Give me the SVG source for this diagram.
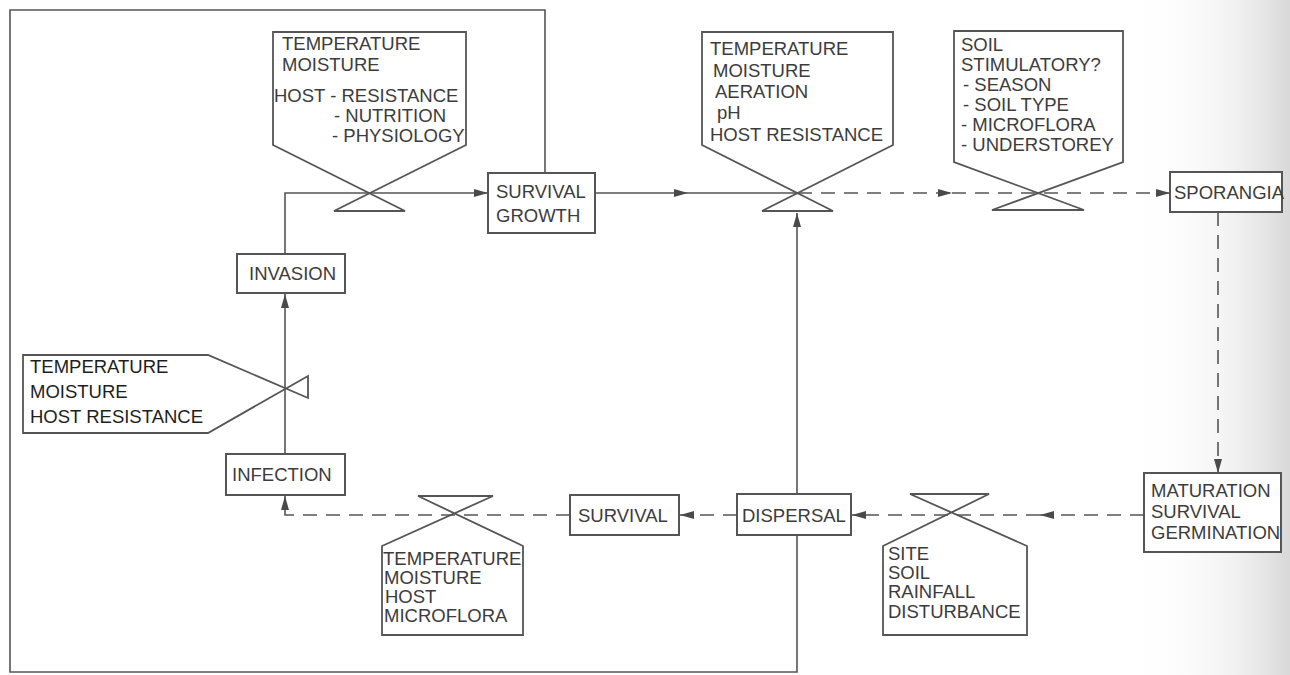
<svg xmlns="http://www.w3.org/2000/svg" width="1290" height="675" viewBox="0 0 1290 675">
<defs>
<linearGradient id="shade" x1="0" y1="0" x2="1" y2="0">
<stop offset="0" stop-color="#ffffff" stop-opacity="0"/>
<stop offset="0.6" stop-color="#ececec" stop-opacity="0.6"/>
<stop offset="1" stop-color="#d8d8d8" stop-opacity="1"/>
</linearGradient>
<marker id="ah" viewBox="0 0 14 10" markerWidth="14" markerHeight="10" refX="14" refY="5" orient="auto" markerUnits="userSpaceOnUse">
<path d="M0,1 L14,5 L0,9 Z" fill="#4a4a4a"/>
</marker>
<style>
.ln{fill:none;stroke:#555;stroke-width:1.6}
.dl{fill:none;stroke:#555;stroke-width:1.6;stroke-dasharray:14 9}
.bx{fill:#fff;stroke:#555;stroke-width:2}
.vl{fill:none;stroke:#555;stroke-width:1.8;stroke-linejoin:miter}
text{font-family:"Liberation Sans",Arial,Helvetica,sans-serif;font-size:18.5px;fill:#3c3c3c}
.dk{fill:#1e1e1e}
</style>
</defs>
<rect width="1290" height="675" fill="#ffffff"/>
<rect x="1130" y="0" width="160" height="675" fill="url(#shade)"/>

<g id="connectors">
<path class="ln" d="M545,173 V10 H10 V672 H797 V535"/>
<path class="ln" d="M797,494 V213" marker-end="url(#ah)"/>
<path class="ln" d="M595,193 H688" marker-end="url(#ah)"/>
<path class="ln" d="M688,193 H798"/>
<path class="dl" d="M798,193 H952" marker-end="url(#ah)"/>
<path class="dl" d="M952,193 H1170" marker-end="url(#ah)"/>
<path class="dl" d="M1218,212 V473" marker-end="url(#ah)"/>
<path class="dl" d="M1144,515 H1040" marker-end="url(#ah)"/>
<path class="dl" d="M1040,515 H852" marker-end="url(#ah)"/>
<path class="dl" d="M737,515 H680" marker-end="url(#ah)"/>
<path class="dl" d="M570,515 H285 V496" marker-end="url(#ah)"/>
<path class="ln" d="M285,454 V294" marker-end="url(#ah)"/>
<path class="ln" d="M285,254 V193 H488" marker-end="url(#ah)"/>
</g>

<g id="valve-host">
<path class="vl" d="M273,145 L273,32 L466,32 L466,145 L334,211 L405,211 Z"/>
<text x="282" y="50">TEMPERATURE</text>
<text x="282" y="71">MOISTURE</text>
<text x="274" y="102">HOST - RESISTANCE</text>
<text x="334" y="122">- NUTRITION</text>
<text x="332" y="142">- PHYSIOLOGY</text>
</g>

<g id="survival-growth">
<rect class="bx" x="488" y="173" width="107" height="60"/>
<text x="496" y="198">SURVIVAL</text>
<text x="496" y="222">GROWTH</text>
</g>

<g id="valve-soil">
<path class="vl" d="M702,145 L702,32 L893,32 L893,145 L762,211 L833,211 Z"/>
<text x="710" y="55">TEMPERATURE</text>
<text x="713" y="77">MOISTURE</text>
<text x="715" y="98">AERATION</text>
<text x="717" y="119">pH</text>
<text x="710" y="141">HOST RESISTANCE</text>
</g>

<g id="valve-stimulatory">
<path class="vl" d="M954,162 L954,31 L1123,31 L1123,162 L992,210 L1084,210 Z"/>
<text x="961" y="51">SOIL</text>
<text x="961" y="71">STIMULATORY?</text>
<text x="963" y="91">- SEASON</text>
<text x="963" y="111">- SOIL TYPE</text>
<text x="961" y="131">- MICROFLORA</text>
<text x="961" y="151">- UNDERSTOREY</text>
</g>

<g id="sporangia">
<rect class="bx" x="1170" y="172" width="112" height="40"/>
<text x="1174" y="199">SPORANGIA</text>
</g>

<g id="maturation">
<rect class="bx" x="1144" y="473" width="137" height="79"/>
<text x="1151" y="497">MATURATION</text>
<text x="1151" y="518">SURVIVAL</text>
<text x="1151" y="539">GERMINATION</text>
</g>

<g id="valve-site">
<path class="vl" d="M1027,546 L1027,635 L883,635 L883,546 L989,494 L910,494 Z"/>
<text x="888" y="560">SITE</text>
<text x="888" y="579">SOIL</text>
<text x="888" y="598">RAINFALL</text>
<text x="888" y="618">DISTURBANCE</text>
</g>

<g id="dispersal">
<rect class="bx" x="737" y="494" width="114" height="41"/>
<text x="742" y="522">DISPERSAL</text>
</g>

<g id="survival">
<rect class="bx" x="570" y="495" width="109" height="40"/>
<text x="578" y="522">SURVIVAL</text>
</g>

<g id="valve-microflora">
<path class="vl" d="M523,546 L523,635 L382,635 L382,546 L493,496 L418,496 Z"/>
<text x="383" y="565">TEMPERATURE</text>
<text x="384" y="584">MOISTURE</text>
<text x="385" y="603">HOST</text>
<text x="384" y="622">MICROFLORA</text>
</g>

<g id="infection">
<rect class="bx" x="226" y="454" width="119" height="41"/>
<text x="232" y="481">INFECTION</text>
</g>

<g id="valve-resistance">
<path class="vl" d="M208,355 L23,355 L23,433 L208,433 L308,376 L308,398 Z"/>
<text class="dk" x="30" y="373">TEMPERATURE</text>
<text class="dk" x="30" y="398">MOISTURE</text>
<text class="dk" x="30" y="423">HOST RESISTANCE</text>
</g>

<g id="invasion">
<rect class="bx" x="237" y="254" width="108" height="39"/>
<text x="249" y="280">INVASION</text>
</g>
</svg>
